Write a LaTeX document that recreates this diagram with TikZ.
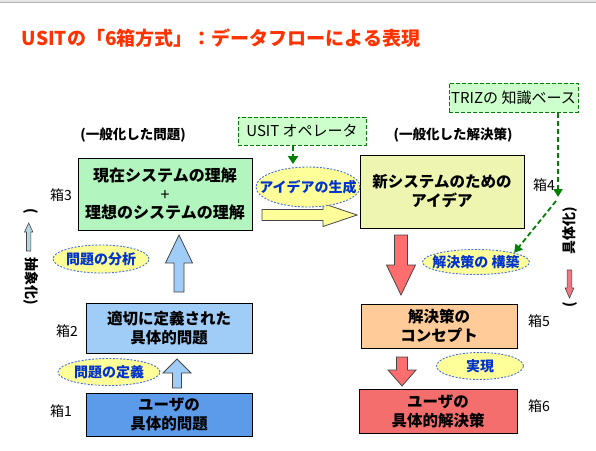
\documentclass[tikz,border=0pt]{standalone}
\usepackage{fontspec}
\setmainfont{Noto Sans CJK JP}
\usetikzlibrary{shapes.geometric,arrows.meta}
\definecolor{titlered}{RGB}{255,51,0}
\definecolor{boxgreen}{RGB}{179,245,191}
\definecolor{boxyellow}{RGB}{238,245,176}
\definecolor{boxlblue}{RGB}{160,205,248}
\definecolor{boxblue}{RGB}{91,155,234}
\definecolor{boxpeach}{RGB}{255,204,153}
\definecolor{boxred}{RGB}{245,110,110}
\definecolor{bubblefill}{RGB}{255,255,153}
\definecolor{bubbleline}{RGB}{70,110,220}
\definecolor{bubbletext}{RGB}{0,51,204}
\definecolor{srcfill}{RGB}{204,255,204}
\definecolor{srcline}{RGB}{0,128,0}
\definecolor{arrred}{RGB}{255,110,110}
\definecolor{arrblue}{RGB}{160,205,248}
\definecolor{arryellow}{RGB}{255,255,153}
\definecolor{arrgrey}{RGB}{180,215,225}
\definecolor{arrpink}{RGB}{240,120,130}
\definecolor{arrline}{RGB}{70,70,70}
\newcommand{\blockV}[7]{\draw[#1] ({#2-#5},{#3}) -- ({#2+#5},{#3}) -- ({#2+#5},{#7}) -- ({#2+#6},{#7}) -- ({#2},{#4}) -- ({#2-#6},{#7}) -- ({#2-#5},{#7}) -- cycle;}
\newcommand{\blockH}[7]{\draw[#1] ({#3},{#2-#5}) -- ({#3},{#2+#5}) -- ({#7},{#2+#5}) -- ({#7},{#2+#6}) -- ({#4},{#2}) -- ({#7},{#2-#6}) -- ({#7},{#2-#5}) -- cycle;}
\tikzset{
  box/.style={draw=black, line width=1pt, align=center, inner sep=0pt,
    font=\bfseries\fontsize{15.5}{19}\selectfont},
  bubble/.style={ellipse, draw=bubbleline, dash pattern=on 2pt off 1.5pt,
    line width=0.9pt, fill=bubblefill, text=bubbletext, inner sep=0pt,
    font=\bfseries\fontsize{14}{16}\selectfont},
  srcbox/.style={draw=srcline, dash pattern=on 4pt off 2pt, line width=1pt,
    fill=srcfill, inner sep=0pt, font=\fontsize{15}{17}\selectfont},
  garrow/.style={draw=srcline, line width=1.8pt, dash pattern=on 5pt off 3pt,
    -{Triangle[width=10pt,length=8pt]}},
  hako/.style={font=\fontsize{14}{16}\selectfont},
  headline/.style={font=\bfseries\fontsize{13.5}{16}\selectfont},
  sidetext/.style={font=\bfseries\fontsize{14}{16}\selectfont},
  barrow/.style={draw=arrline, line width=0.8pt, line join=miter}
}
\begin{document}
\begin{tikzpicture}[x=1pt,y=-1pt]
\useasboundingbox (0,0) rectangle (596,450);
\fill[white] (0,0) rectangle (596,450);
\fill[gray!20] (0,0) rectangle (596,2.5);
\draw[gray!60, line width=0.6pt] (0,2.5) -- (596,2.5);

% title
\node[text=titlered, font=\bfseries\fontsize{19}{22}\selectfont] (title) at (221,38) {USITの「6箱方式」：データフローによる表現};

% headings
\node[headline] (h1) at (133,135) {(一般化した問題)};
\node[headline] (h2) at (453,135) {(一般化した解決策)};

% boxes
\node[box, fill=boxgreen, minimum width=174pt, minimum height=72pt, font=\bfseries\fontsize{16}{18.5}\selectfont] (box3) at (165,194) {現在システムの理解\\{\mdseries +}\\理想のシステムの理解};
\node[box, fill=boxyellow, minimum width=164pt, minimum height=73pt] (box4) at (442,191.5) {新システムのための\\アイデア};
\node[box, fill=boxlblue, minimum width=166pt, minimum height=50pt] (box2) at (169,328) {適切に定義された\\具体的問題};
\node[box, fill=boxblue, minimum width=166pt, minimum height=43pt] (box1) at (169,414.5) {ユーザの\\具体的問題};
\node[box, fill=boxpeach, minimum width=156pt, minimum height=44pt] (box5) at (439,326) {解決策の\\コンセプト};
\node[box, fill=boxred, minimum width=158pt, minimum height=44pt] (box6) at (438,411) {ユーザの\\具体的解決策};

% box labels
\node[hako] (l3) at (61,195) {箱3};
\node[hako] (l4) at (544,185) {箱4};
\node[hako] (l2) at (67,331) {箱2};
\node[hako] (l1) at (61,411) {箱1};
\node[hako] (l5) at (539,321) {箱5};
\node[hako] (l6) at (539,406) {箱6};

% block arrows
\blockH{barrow, fill=arryellow}{215}{262}{357}{5.5}{11.5}{323}
\blockV{barrow, fill=arrblue}{179}{292}{235}{5}{13.5}{263}
\blockV{barrow, fill=arrblue}{177}{388}{359}{4.5}{14}{373}
\blockV{barrow, fill=arrred}{401}{235}{295}{6.5}{14.5}{265}
\blockV{barrow, fill=arrred}{402}{357}{386}{5.5}{14}{370}
\blockV{barrow, fill=arrgrey, line width=0.6pt}{28.7}{251}{223}{2.2}{4.2}{232}
\blockV{barrow, fill=arrpink, line width=0.6pt}{569.5}{270}{298}{2.4}{4.4}{288}

% bubbles
\node[bubble, minimum width=104pt, minimum height=40pt] (seisei) at (308,187) {\makebox[0pt]{アイデアの生成}};
\node[bubble, minimum width=96pt, minimum height=28pt] (bunseki) at (101,259) {\makebox[0pt]{問題の分析}};
\node[bubble, minimum width=102pt, minimum height=27pt] (teigi) at (109,372) {\makebox[0pt]{問題の定義}};
\node[bubble, minimum width=107pt, minimum height=25pt] (kouchiku) at (476,262) {\makebox[0pt]{解決策の 構築}};
\node[bubble, minimum width=87pt, minimum height=27pt] (jitsugen) at (480,366) {\makebox[0pt]{実現}};

% source boxes
\node[srcbox, minimum width=128pt, minimum height=28pt] (usit) at (302,131) {USIT オペレータ};
\node[srcbox, minimum width=129pt, minimum height=29pt] (triz) at (513.5,97.5) {TRIZの 知識ベース};

% green dashed arrows
\coordinate (usitend) at (293,164);
\draw[garrow] (usit.south -| usitend) -- (usitend);
\coordinate (trizbend) at (558,197);
\draw[garrow, -{Triangle[width=9pt,length=8pt]}] (triz.south -| trizbend) -- (trizbend);
\coordinate (trizdiag) at (556,201);
\draw[garrow, -{Triangle[width=9pt,length=8pt]}] (trizdiag) -- (kouchiku.north east);

% side texts
\node[sidetext, rotate=-90] (absl) at (31,211) {(};
\node[sidetext, rotate=-90] (abs) at (31,281) {抽象化)};
\node[sidetext, rotate=90] (conc) at (570,231) {具体化)};
\node[sidetext, rotate=90] (concl) at (570,305) {(};
\end{tikzpicture}
\end{document}
